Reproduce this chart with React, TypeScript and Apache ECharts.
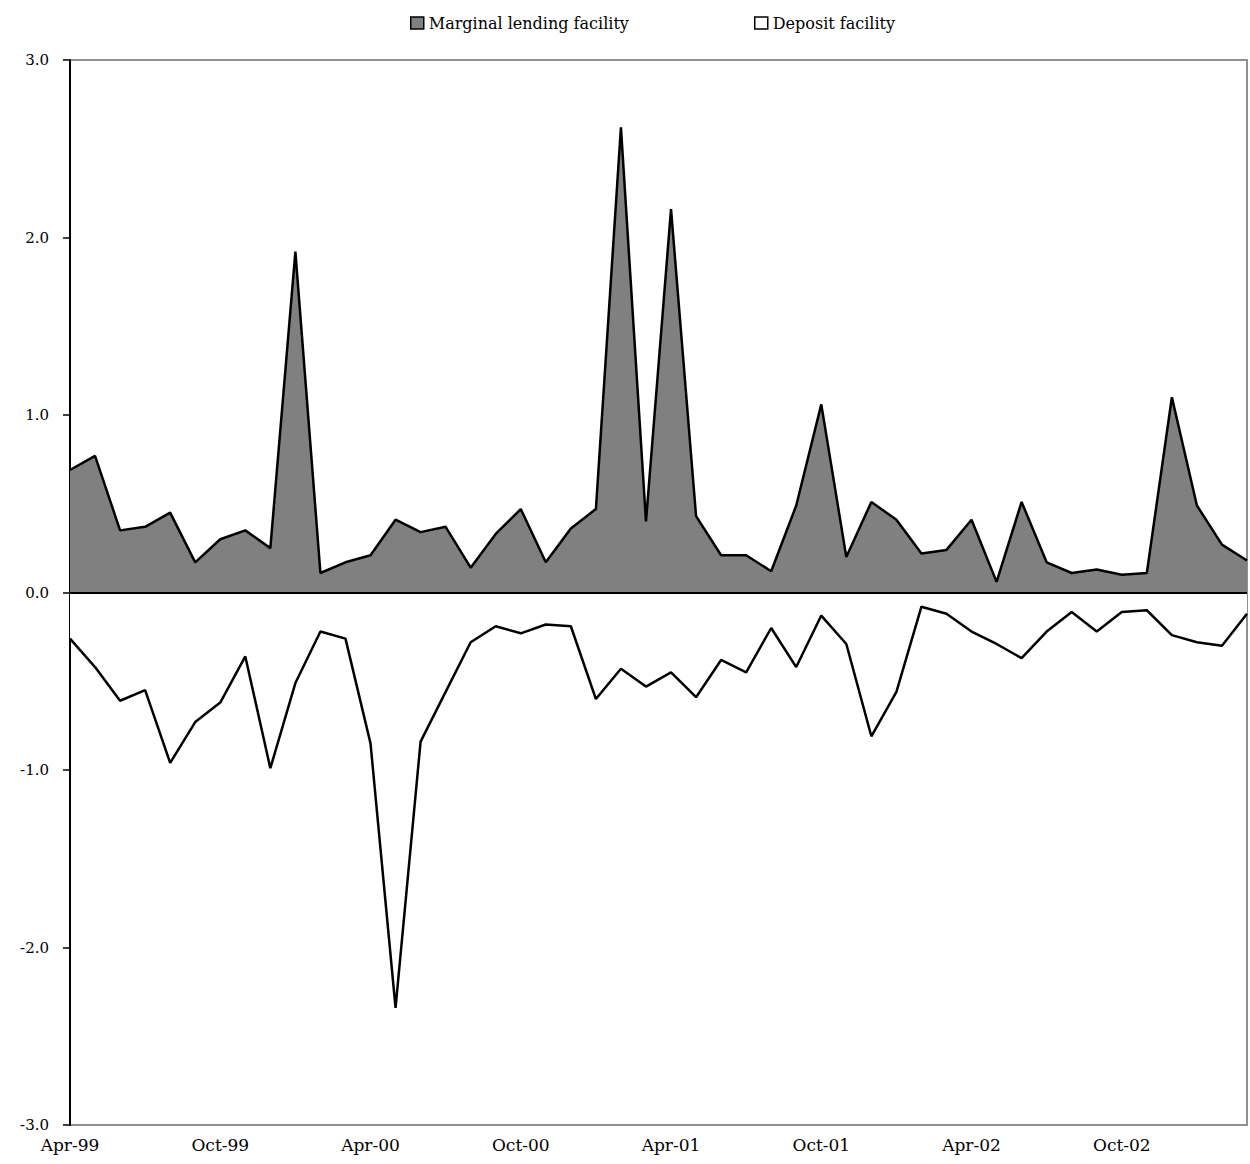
import React, { useEffect, useRef } from "react";
import * as echarts from "echarts";

const months: string[] = [
  "Apr-99", "May-99", "Jun-99", "Jul-99", "Aug-99", "Sep-99", "Oct-99", "Nov-99", "Dec-99", "Jan-00", "Feb-00", "Mar-00",
  "Apr-00", "May-00", "Jun-00", "Jul-00", "Aug-00", "Sep-00", "Oct-00", "Nov-00", "Dec-00", "Jan-01", "Feb-01", "Mar-01",
  "Apr-01", "May-01", "Jun-01", "Jul-01", "Aug-01", "Sep-01", "Oct-01", "Nov-01", "Dec-01", "Jan-02", "Feb-02", "Mar-02",
  "Apr-02", "May-02", "Jun-02", "Jul-02", "Aug-02", "Sep-02", "Oct-02", "Nov-02", "Dec-02", "Jan-03", "Feb-03", "Mar-03",
];

const marginalLending: number[] = [
  0.69, 0.77, 0.35, 0.37, 0.45, 0.17, 0.30, 0.35, 0.25, 1.92,
  0.11, 0.17, 0.21, 0.41, 0.34, 0.37, 0.14, 0.33, 0.47, 0.17,
  0.36, 0.47, 2.62, 0.40, 2.16, 0.43, 0.21, 0.21, 0.12, 0.49,
  1.06, 0.20, 0.51, 0.41, 0.22, 0.24, 0.41, 0.06, 0.51, 0.17,
  0.11, 0.13, 0.10, 0.11, 1.10, 0.49, 0.27, 0.18,
];

const depositFacility: number[] = [
  -0.26, -0.42, -0.61, -0.55, -0.96, -0.73, -0.62, -0.36, -0.99, -0.51,
  -0.22, -0.26, -0.85, -2.34, -0.84, -0.56, -0.28, -0.19, -0.23, -0.18,
  -0.19, -0.60, -0.43, -0.53, -0.45, -0.59, -0.38, -0.45, -0.20, -0.42,
  -0.13, -0.29, -0.81, -0.56, -0.08, -0.12, -0.22, -0.29, -0.37, -0.22,
  -0.11, -0.22, -0.11, -0.10, -0.24, -0.28, -0.30, -0.12,
];

const seriesNames: string[] = ["Marginal lending facility", "Deposit facility"];

const FONT = "'DejaVu Serif', 'Liberation Serif', serif";

export default function App() {
  const ref = useRef<HTMLDivElement>(null);

  useEffect(() => {
    if (!ref.current) return;
    const chart = echarts.init(ref.current, undefined, { renderer: "svg" });
    const legendText = { fontFamily: FONT, fontSize: 16, color: "#000" };
    chart.setOption({
      animation: false,
      backgroundColor: "#ffffff",
      textStyle: { fontFamily: FONT, color: "#000" },
      legend: [
        {
          left: 405,
          top: 10,
          itemWidth: 13,
          itemHeight: 12,
          textStyle: legendText,
          selectedMode: false,
          data: [
            {
              name: seriesNames[0],
              icon: "rect",
              itemStyle: { color: "#808080", borderColor: "#000", borderWidth: 1.5 },
            },
          ],
        },
        {
          left: 749,
          top: 10,
          itemWidth: 13,
          itemHeight: 12,
          textStyle: legendText,
          selectedMode: false,
          data: [
            {
              name: seriesNames[1],
              icon: "rect",
              itemStyle: { color: "#ffffff", borderColor: "#000", borderWidth: 1.5 },
            },
          ],
        },
      ],
      grid: {
        left: 70,
        right: 3,
        top: 60,
        bottom: 39,
        show: true,
        borderColor: "#909090",
        borderWidth: 2,
        backgroundColor: "transparent",
      },
      xAxis: {
        type: "category",
        data: months,
        boundaryGap: false,
        axisLine: { show: false, onZero: false },
        axisTick: { show: false },
        splitLine: { show: false },
        axisLabel: {
          interval: 5,
          margin: 11,
          fontFamily: FONT,
          fontSize: 17,
          color: "#000",
        },
      },
      yAxis: {
        type: "value",
        min: -3,
        max: 3,
        interval: 1,
        axisLine: { show: true, lineStyle: { color: "#000", width: 2 } },
        axisTick: { show: true, inside: false, length: 7, lineStyle: { color: "#000", width: 1.5 } },
        splitLine: { show: false },
        axisLabel: {
          margin: 21,
          fontFamily: FONT,
          fontSize: 15,
          color: "#000",
          formatter: (v: number) => v.toFixed(1),
        },
      },
      series: [
        {
          name: seriesNames[0],
          type: "line",
          data: marginalLending,
          symbol: "none",
          lineStyle: { color: "#000", width: 2.5 },
          itemStyle: { color: "#808080" },
          areaStyle: { color: "#808080", opacity: 1 },
          z: 2,
        },
        {
          name: seriesNames[1],
          type: "line",
          data: depositFacility,
          symbol: "none",
          lineStyle: { color: "#000", width: 2.5 },
          itemStyle: { color: "#ffffff" },
          areaStyle: { color: "#ffffff", opacity: 1 },
          z: 3,
          markLine: {
            silent: true,
            symbol: ["none", "none"],
            label: { show: false },
            lineStyle: { color: "#000", width: 2, type: "solid" },
            data: [{ yAxis: 0 }],
          },
        },
      ],
    });
    return () => {
      chart.dispose();
    };
  }, []);

  return (
    <div
      ref={ref}
      style={{ position: "absolute", left: 0, top: 0, width: 1250, height: 1164, background: "#fff" }}
    />
  );
}
